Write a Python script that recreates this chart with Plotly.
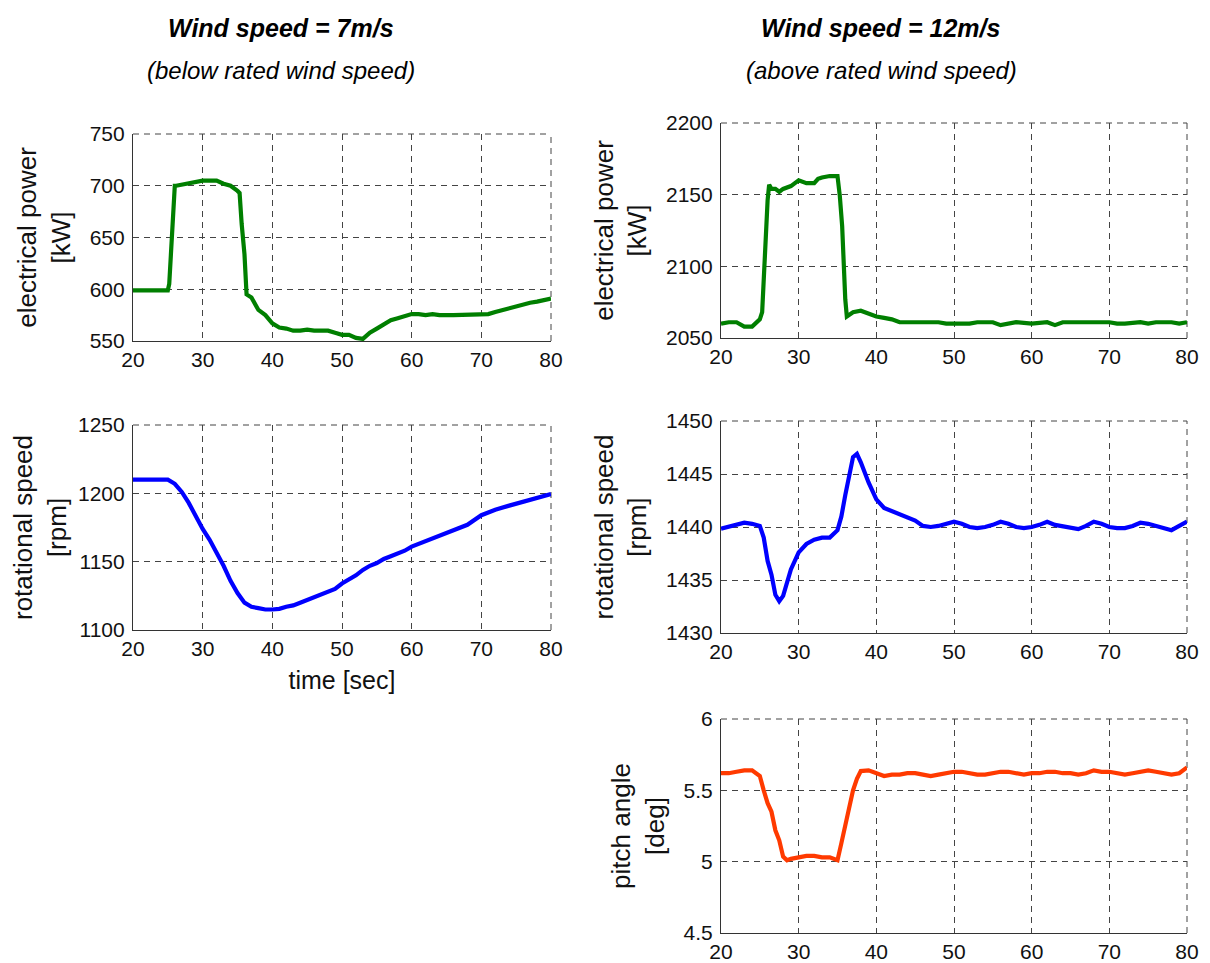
import plotly.graph_objects as go

# ---------------- data ----------------
# Wind speed = 7 m/s : electrical power [kW]
t_p7 = [20, 25, 25.2, 25.4, 25.6, 25.8, 26, 26.2, 27, 28, 29, 30, 31, 32, 33, 34, 35, 35.3, 35.6, 36, 36.3,
        37, 38, 39, 40, 41, 42, 43, 44, 45, 46, 47, 48, 49, 50, 51, 52, 53, 54, 55, 56, 57, 58, 59, 60,
        61, 62, 63, 64, 66, 68, 70, 71, 72, 73, 74, 75, 76, 77, 78, 79, 80]
p7 = [599, 599, 605, 627, 656, 686, 700, 700, 701, 703, 704, 705, 705, 705, 702, 700, 695, 693, 663, 634, 595,
      592, 580, 575, 567, 563, 562, 560, 560, 561, 560, 560, 560, 558, 556, 556, 553, 552, 558, 562, 566, 570, 572, 574, 576,
      576, 575, 576, 575, 575, 575, 575, 576, 578, 580, 582, 583, 585, 587, 588, 589, 591]

# Wind speed = 7 m/s : rotational speed [rpm]
t_s7 = [20, 25, 26, 27, 28, 29, 30, 31, 32, 33, 34, 35, 36, 37, 38, 39, 40, 41, 42, 43, 44, 45, 46, 47, 48, 49,
        50, 51, 52, 53, 54, 55, 56, 57, 58, 59, 60, 62, 64, 66, 68, 70, 72, 74, 76, 78, 80]
s7 = [1210, 1210, 1207, 1201, 1193, 1183, 1174, 1166, 1157, 1147, 1136, 1127, 1120, 1117, 1116, 1115, 1115, 1115.5,
      1117, 1118, 1120, 1122, 1124, 1126, 1128, 1130, 1134, 1137, 1140, 1144, 1147, 1149, 1152, 1154, 1156, 1158,
      1161, 1165, 1169, 1173, 1177, 1184, 1188, 1191, 1194, 1197, 1199.5]

# Wind speed = 12 m/s : electrical power [kW]
t_p12 = [20, 21, 22, 23, 24, 25, 25.3, 25.5, 25.8, 26, 26.2, 26.5, 27, 27.5, 28, 29, 30, 31, 32, 32.5, 33, 34, 35,
         35.3, 35.6, 35.8, 36, 36.2, 37, 38, 39, 40, 41, 42, 43, 44, 46, 48, 49, 50, 52, 53, 54, 55, 56, 57, 58,
         60, 62, 63, 64, 66, 68, 70, 71, 72, 74, 75, 76, 78, 79, 80]
p12 = [2060, 2061, 2061, 2058, 2058, 2063, 2068, 2093, 2121, 2146, 2157, 2154, 2154, 2152, 2154, 2156, 2160, 2158,
       2158, 2161, 2162, 2163, 2163, 2149, 2128, 2097, 2077, 2065, 2068, 2069, 2067, 2065, 2064, 2063, 2061, 2061,
       2061, 2061, 2060, 2060, 2060, 2061, 2061, 2061, 2059, 2060, 2061, 2060, 2061, 2059, 2061, 2061, 2061, 2061,
       2060, 2060, 2061, 2060, 2061, 2061, 2060, 2061]

# Wind speed = 12 m/s : rotational speed [rpm]
t_s12 = [20, 21, 22, 23, 24, 25, 25.5, 26, 26.5, 27, 27.5, 28, 29, 30, 31, 32, 33, 34, 35, 35.5, 36, 36.5, 37, 37.5,
         38, 39, 40, 41, 42, 43, 44, 45, 46, 47, 48, 49, 50, 51, 52, 53, 54, 55, 56, 57, 58, 59, 60, 61, 62, 63,
         64, 65, 66, 67, 68, 69, 70, 71, 72, 73, 74, 75, 76, 77, 78, 79, 80]
s12 = [1439.85, 1440, 1440.2, 1440.4, 1440.3, 1440.1, 1439, 1436.8, 1435.5, 1433.6, 1433, 1433.5, 1436, 1437.6,
       1438.4, 1438.8, 1439, 1439, 1439.7, 1441, 1443, 1445, 1446.6, 1446.9, 1446.1, 1444.2, 1442.6, 1441.8, 1441.5,
       1441.2, 1441, 1440.6, 1440.1, 1440, 1440.1, 1440.3, 1440.5, 1440.3, 1440, 1439.9, 1440, 1440.2, 1440.5,
       1440.3, 1440, 1439.9, 1440, 1440.2, 1440.5, 1440.2, 1440.1, 1440, 1439.8, 1440.1, 1440.5, 1440.3, 1440,
       1439.9, 1439.9, 1440.1, 1440.4, 1440.3, 1440.1, 1440, 1439.7, 1440.1, 1440.5]

# Wind speed = 12 m/s : pitch angle [deg]
t_pa12 = [20, 21, 22, 23, 24, 25, 25.5, 26, 26.5, 27, 27.5, 28, 28.5, 29, 30, 31, 32, 33, 34, 35, 35.5, 36, 36.5,
          37, 37.5, 38, 39, 40, 41, 42, 43, 44, 45, 46, 47, 48, 49, 50, 51, 52, 53, 54, 55, 56, 57, 58, 59, 60,
          61, 62, 63, 64, 65, 66, 67, 68, 69, 70, 71, 72, 73, 74, 75, 76, 77, 78, 79, 80]
pa12 = [5.62, 5.62, 5.63, 5.64, 5.64, 5.6, 5.5, 5.41, 5.35, 5.22, 5.15, 5.035, 5.01, 5.02, 5.03, 5.04, 5.04, 5.03,
        5.03, 5.01, 5.13, 5.25, 5.35, 5.5, 5.58, 5.635, 5.64, 5.62, 5.6, 5.61, 5.61, 5.62, 5.62, 5.61, 5.6, 5.61,
        5.62, 5.63, 5.63, 5.62, 5.61, 5.61, 5.62, 5.63, 5.63, 5.62, 5.61, 5.62, 5.62, 5.63, 5.63, 5.62, 5.62, 5.61,
        5.62, 5.64, 5.63, 5.63, 5.62, 5.61, 5.62, 5.63, 5.64, 5.63, 5.62, 5.61, 5.62, 5.66]

x_ticks = [20, 30, 40, 50, 60, 70, 80]

# ---------------- figure ----------------
W, H = 1210, 963
OFF = 8  # page body margin of the html page; positions below are page pixels
GREEN, BLUE, ORANGE = "#007f00", "#0000ff", "#ff3a00"
TICKFONT = dict(family="Liberation Sans, Arial", size=21, color="#111")
TITLEFONT = dict(family="Liberation Sans, Arial", size=26, color="#111")
XTITLEFONT = dict(family="Liberation Sans, Arial", size=25, color="#111")
GRIDCOL = "#444"
DASH = "6px,5px"

def xd(a, b):
    return [(a - OFF) / W, (b - OFF) / W]

def yd(top, bottom):
    return [1 - (bottom - OFF) / H, 1 - (top - OFF) / H]

panels = [
    # (t, y, color, xdomain, ydomain, yrange, ytickvals, yticktext, ytitle, xtitle)
    (t_p7, p7, GREEN, xd(133, 551), yd(134, 341), [550, 750], [550, 600, 650, 700, 750], None,
     "electrical power<br>[kW]", None),
    (t_s7, s7, BLUE, xd(133, 551), yd(425, 630), [1100, 1250], [1100, 1150, 1200, 1250], None,
     "rotational speed<br>[rpm]", "time [sec]"),
    (t_p12, p12, GREEN, xd(721, 1187), yd(123, 338), [2050, 2200], [2050, 2100, 2150, 2200], None,
     "electrical power<br>[kW]", None),
    (t_s12, s12, BLUE, xd(721, 1187), yd(421, 633), [1430, 1450], [1430, 1435, 1440, 1445, 1450], None,
     "rotational speed<br>[rpm]", None),
    (t_pa12, pa12, ORANGE, xd(721, 1187), yd(719, 933), [4.5, 6], [4.5, 5, 5.5, 6], ["4.5", "5", "5.5", "6"],
     "pitch angle<br>[deg]", None),
]

fig = go.Figure()
layout = dict(
    width=W, height=H,
    margin=dict(l=0, r=0, t=0, b=0),
    paper_bgcolor="white", plot_bgcolor="white",
    showlegend=False,
)
shapes = []

for i, (t, y, col, xdom, ydom, yr, ytv, ytt, ytitle, xtitle) in enumerate(panels, start=1):
    sfx = "" if i == 1 else str(i)
    fig.add_trace(go.Scatter(x=t, y=y, mode="lines", line=dict(color=col, width=4.2),
                             xaxis="x" + sfx, yaxis="y" + sfx, hoverinfo="skip"))
    common = dict(showgrid=True, gridcolor=GRIDCOL, gridwidth=1, griddash=DASH,
                  showline=True, linecolor="#333", linewidth=1.2, mirror=False,
                  zeroline=False, ticks="", tickfont=TICKFONT, automargin=False)
    layout["xaxis" + sfx] = dict(domain=xdom, anchor="y" + sfx, range=[20, 80], tickvals=x_ticks,
                                 **common)
    if xtitle:
        layout["xaxis" + sfx]["title"] = dict(text=xtitle, font=XTITLEFONT, standoff=12)
    ya = dict(domain=ydom, anchor="x" + sfx, range=yr, tickvals=ytv, ticklabelstandoff=3,
              title=dict(text=ytitle, font=TITLEFONT, standoff=11), **common)
    if ytt:
        ya["ticktext"] = ytt
    layout["yaxis" + sfx] = ya
    # dashed frame on the top and right edges (as the grid in the original)
    shapes.append(dict(type="line", xref="x" + sfx + " domain", yref="y" + sfx + " domain",
                       x0=0, x1=1, y0=1, y1=1, layer="below",
                       line=dict(color=GRIDCOL, width=1, dash=DASH)))
    shapes.append(dict(type="line", xref="x" + sfx + " domain", yref="y" + sfx + " domain",
                       x0=1, x1=1, y0=0, y1=1, layer="below",
                       line=dict(color=GRIDCOL, width=1, dash=DASH)))

layout["shapes"] = shapes
fig.update_layout(**layout)

TF_B = dict(family="Liberation Sans, Arial", size=25, color="#000")
TF_I = dict(family="Liberation Sans, Arial", size=24, color="#000")
ann = [
    dict(text="<b><i>Wind speed = 7m/s</i></b>", x=(281 - OFF) / W, y=1 - (28 - OFF) / H, font=TF_B),
    dict(text="<i>(below rated wind speed)</i>", x=(281 - OFF) / W, y=1 - (70 - OFF) / H, font=TF_I),
    dict(text="<b><i>Wind speed = 12m/s</i></b>", x=(881 - OFF) / W, y=1 - (28 - OFF) / H, font=TF_B),
    dict(text="<i>(above rated wind speed)</i>", x=(881 - OFF) / W, y=1 - (70 - OFF) / H, font=TF_I),
]
for a in ann:
    fig.add_annotation(xref="paper", yref="paper", showarrow=False, xanchor="center", yanchor="middle", **a)

fig.write_html("out.html")
